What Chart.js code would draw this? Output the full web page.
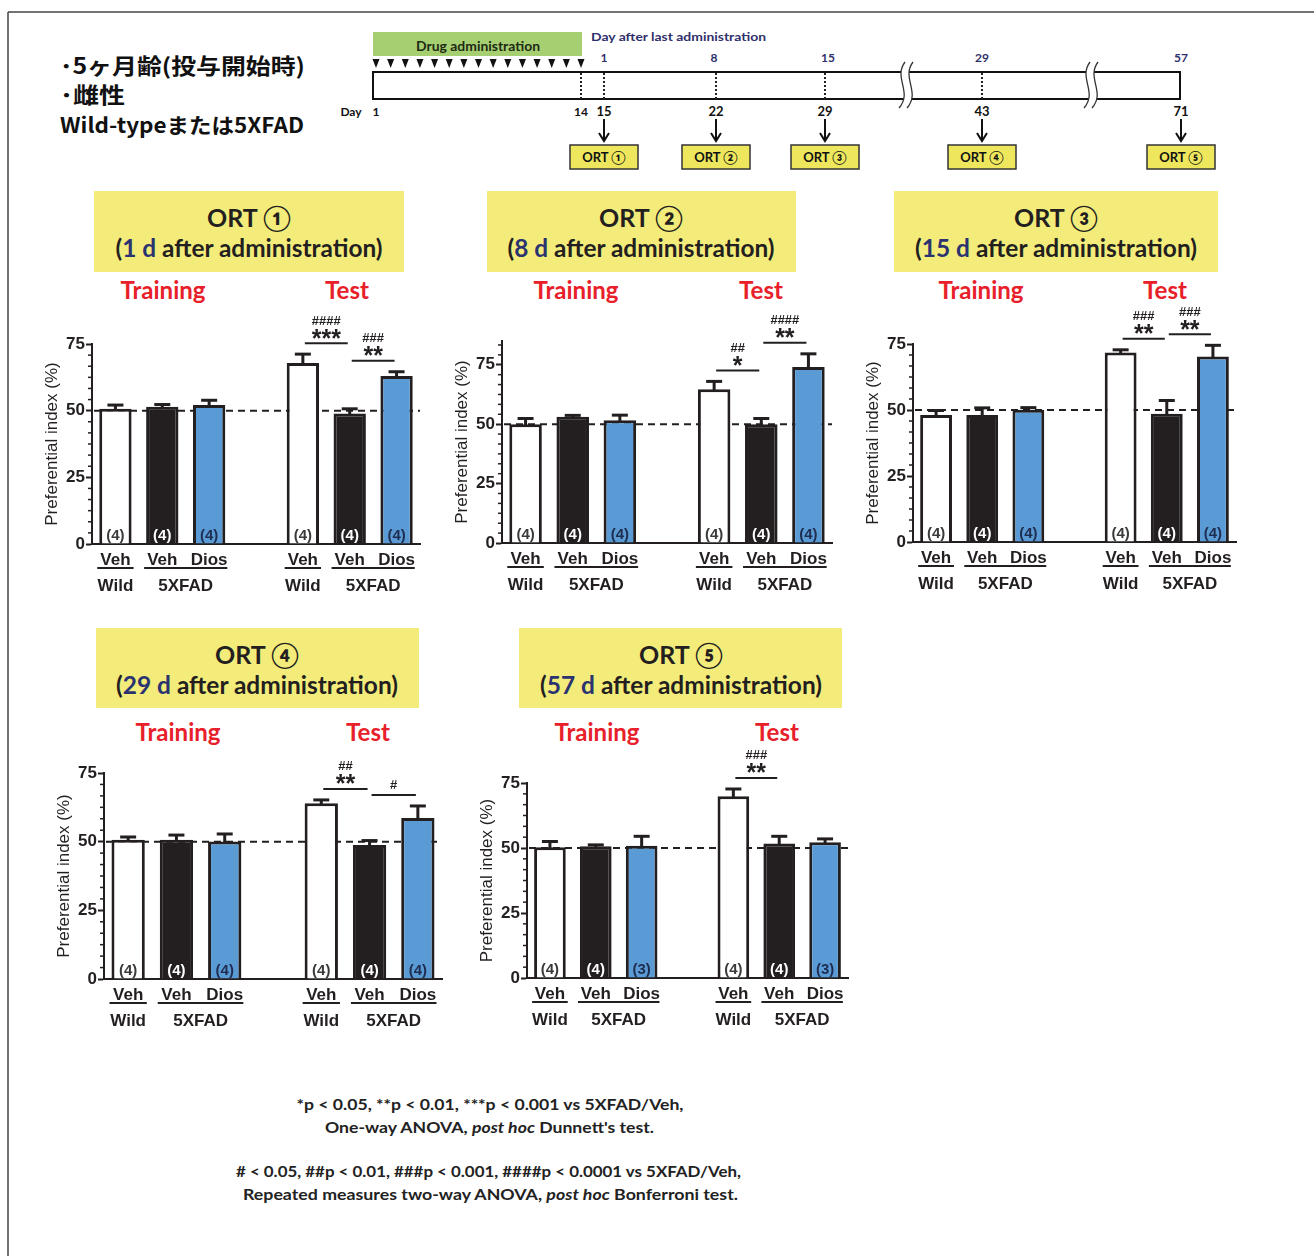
<!DOCTYPE html>
<html><head><meta charset="utf-8">
<script src="https://cdn.jsdelivr.net/npm/chart.js@4.4.1/dist/chart.umd.min.js"></script>
<style>
html,body{margin:0;padding:0;background:#fff;}
#page{position:relative;width:1314px;height:1256px;overflow:hidden;background:#fff;}
#deco{position:absolute;left:0;top:0;}
canvas{position:absolute;}
</style></head>
<body><div id="page"><svg id="deco" width="1314" height="1256" xmlns="http://www.w3.org/2000/svg"></svg></div>
<script>
// ---------------- DATA ----------------
const treatment = ['Veh','Veh','Dios','Veh','Veh','Dios'];
const genotype  = ['Wild','5XFAD','5XFAD','Wild','5XFAD','5XFAD'];
const session   = ['Training','Training','Training','Test','Test','Test'];
const yTickValues = [0,25,50,75];
const chanceLevel = 50;

const ort1Mean = [50.7, 51.5, 52.1, 67.9, 48.9, 63.0];
const ort1Sem  = [1.4, 0.8, 1.8, 3.3, 1.8, 1.6];
const ort1N    = [4,4,4,4,4,4];
const ort2Mean = [50.0, 53.1, 51.7, 64.7, 50.0, 74.1];
const ort2Sem  = [2.4, 0.6, 2.1, 3.3, 2.4, 5.5];
const ort2N    = [4,4,4,4,4,4];
const ort3Mean = [48.1, 48.1, 50.1, 71.8, 48.6, 70.3];
const ort3Sem  = [1.7, 2.7, 0.8, 1.0, 5.0, 4.2];
const ort3N    = [4,4,4,4,4,4];
const ort4Mean = [50.7, 50.7, 50.1, 64.0, 48.8, 58.6];
const ort4Sem  = [1.0, 1.7, 2.7, 1.2, 1.6, 4.4];
const ort4N    = [4,4,4,4,4,4];
const ort5Mean = [50.3, 50.7, 50.9, 69.9, 51.7, 52.2];
const ort5Sem  = [2.2, 0.5, 3.6, 2.8, 2.8, 1.3];
const ort5N    = [4,4,3,4,4,3];

const ort1Sig = [{a:3,b:4,stars:'***',hash:'####'},{a:4,b:5,stars:'**',hash:'###'}];
const ort2Sig = [{a:3,b:4,stars:'*',hash:'##'},{a:4,b:5,stars:'**',hash:'####'}];
const ort3Sig = [{a:3,b:4,stars:'**',hash:'###'},{a:4,b:5,stars:'**',hash:'###'}];
const ort4Sig = [{a:3,b:4,stars:'**',hash:'##'},{a:4,b:5,stars:'',hash:'#'}];
const ort5Sig = [{a:3,b:4,stars:'**',hash:'###'}];

const panelNames = ['ORT ①','ORT ②','ORT ③','ORT ④','ORT ⑤'];
const panelDays  = ['1','8','15','29','57'];
const yMax = [75, 85, 75, 75, 75];
const yTitle = 'Preferential index (%)';

// timeline text
const dayAfterLabels = ['1','8','15','29','57'];
const dayLabels = ['15','22','29','43','71'];

// ---------------- LAYOUT / STYLE ----------------
const INK = '#231f20';
const FILLS = ['#ffffff', '#231f20', '#5b9bd5'];
const NCOL  = ['#3a3a3a', '#ffffff', '#1e2d50'];
const panels = [
  {box:[94,191,310,81], cx:249, w2:267, train:163, test:347, ty:289, area:{l:92,r:420,t:344,b:544}},
  {box:[487,191,309,81], cx:641, w2:267, train:576, test:761, ty:289, area:{l:502,r:832,t:340.7,b:542.7}},
  {box:[894,191,324,81], cx:1056, w2:282, train:981, test:1165, ty:289, area:{l:913,r:1236,t:343.7,b:541.3}},
  {box:[96,628,323,80], cx:257, w2:282, train:178, test:368, ty:731, area:{l:104,r:442,t:773.3,b:979.3}},
  {box:[519,628,323,80], cx:681, w2:282, train:597, test:777, ty:731, area:{l:527,r:848,t:783.3,b:978.7}}
];
const FONT = '"Liberation Sans", Arial, sans-serif';

// ---------------- SVG DECORATION ----------------
const svg = document.getElementById('deco');
const NS = 'http://www.w3.org/2000/svg';
function S(tag, attrs, parent){ const e=document.createElementNS(NS,tag); for(const k in attrs) e.setAttribute(k, attrs[k]); (parent||svg).appendChild(e); return e; }
function T(x,y,str,attrs){ const e=S('text',Object.assign({x:x,y:y,'dominant-baseline':'central'},attrs)); if(str!==null) e.textContent=str; return e; }
function tspan(parent, str, attrs){ const e=S('tspan', attrs||{}, parent); e.textContent=str; return e; }
const LATO = 'Lato, "Noto Sans", sans-serif';

// frame
S('line',{x1:8,y1:12,x2:1314,y2:12,stroke:'#444','stroke-width':1.5});
S('line',{x1:8,y1:12,x2:8,y2:1256,stroke:'#444','stroke-width':1.5});

// Japanese header
const JP = '"Noto Sans CJK JP", sans-serif';
T(60,64,'･5ヶ月齢(投与開始時)',{'font-family':JP,'font-weight':'bold','font-size':22,fill:'#111',textLength:245,lengthAdjust:'spacingAndGlyphs'});
T(60,93,'･雌性',{'font-family':JP,'font-weight':'bold','font-size':22,fill:'#111',textLength:65,lengthAdjust:'spacingAndGlyphs'});
T(60,124,'Wild-typeまたは5XFAD',{'font-family':JP,'font-weight':'bold','font-size':21,fill:'#111',textLength:244,lengthAdjust:'spacingAndGlyphs'});

// timeline
S('rect',{x:373,y:32,width:209,height:24,fill:'#a6cf72'});
T(478,45,'Drug administration',{'font-family':LATO,'font-weight':'bold','font-size':14,fill:'#1d2a12','text-anchor':'middle',textLength:124,lengthAdjust:'spacingAndGlyphs'});
for(let i=0;i<15;i++){ const x=376+i*(581-376)/14; S('polygon',{points:`${x-3.5},59 ${x+3.5},59 ${x},68`,fill:'#111'}); }
S('rect',{x:373,y:72,width:807,height:27,fill:'#fff',stroke:'#111','stroke-width':2});
[581,604,716,825,982].forEach(x=>S('line',{x1:x,y1:73,x2:x,y2:99,stroke:'#222','stroke-width':2,'stroke-dasharray':'2 2'}));
[903,1088].forEach(bx=>{
  S('path',{d:`M${bx+2},62 C${bx-10},78 ${bx+10},92 ${bx-4},108 L${bx+4},108 C${bx+18},92 ${bx-2},78 ${bx+10},62 Z`,fill:'#fff'});
  S('path',{d:`M${bx+2},62 C${bx-10},78 ${bx+10},92 ${bx-4},108`,fill:'none',stroke:'#333','stroke-width':1.3});
  S('path',{d:`M${bx+10},62 C${bx-2},78 ${bx+18},92 ${bx+4},108`,fill:'none',stroke:'#333','stroke-width':1.3});
});
T(591,36,'Day after last administration',{'font-family':LATO,'font-weight':'bold','font-size':12,fill:'#2f2f6b',textLength:175,lengthAdjust:'spacingAndGlyphs'});
const ortX = [604,716,825,982,1181];
const topX = [604,714,828,982,1181];
dayAfterLabels.forEach((s,i)=>T(topX[i],57,s,{'font-family':LATO,'font-weight':'bold','font-size':12,fill:'#2f2f6b','text-anchor':'middle'}));
T(351,111,'Day',{'font-family':LATO,'font-weight':'bold','font-size':12,fill:'#111','text-anchor':'middle'});
T(376,111,'1',{'font-family':LATO,'font-weight':'bold','font-size':12,fill:'#111','text-anchor':'middle'});
T(581,111,'14',{'font-family':LATO,'font-weight':'bold','font-size':12,fill:'#111','text-anchor':'middle'});
dayLabels.forEach((s,i)=>T(ortX[i],111,s,{'font-family':LATO,'font-weight':'bold','font-size':13,fill:'#111','text-anchor':'middle'}));
ortX.forEach((x,i)=>{
  S('line',{x1:x,y1:119,x2:x,y2:140,stroke:'#111','stroke-width':2});
  S('polyline',{points:`${x-5},133 ${x},141 ${x+5},133`,fill:'none',stroke:'#111','stroke-width':2});
  S('rect',{x:x-34,y:145,width:68,height:24,fill:'#eee75d',stroke:'#333','stroke-width':1.5});
  T(x,157,panelNames[i],{'font-family':LATO,'font-weight':'bold','font-size':13,fill:'#111','text-anchor':'middle'});
});

// panel titles
panels.forEach((p,i)=>{
  const [bx,by,bw,bh]=p.box;
  S('rect',{x:bx,y:by,width:bw,height:bh,fill:'#f3ec7a'});
  T(p.cx,by+26,panelNames[i],{'font-family':LATO,'font-weight':'bold','font-size':25,fill:INK,'text-anchor':'middle'});
  const t2=T(p.cx,by+56,null,{'font-family':LATO,'font-weight':'bold','font-size':25,fill:INK,'text-anchor':'middle',textLength:p.w2,lengthAdjust:'spacingAndGlyphs'});
  tspan(t2,'(');
  tspan(t2,panelDays[i]+' d',{fill:'#2b3270'});
  tspan(t2,' after administration)');
  T(p.train,p.ty,'Training',{'font-family':LATO,'font-weight':'bold','font-size':25,fill:'#e8202a','text-anchor':'middle',textLength:85,lengthAdjust:'spacingAndGlyphs'});
  T(p.test,p.ty,'Test',{'font-family':LATO,'font-weight':'bold','font-size':25,fill:'#e8202a','text-anchor':'middle',textLength:44,lengthAdjust:'spacingAndGlyphs'});
});

// footnotes
const FN = {'font-family':LATO,'font-weight':'bold','font-size':16,fill:'#222','text-anchor':'middle',lengthAdjust:'spacingAndGlyphs'};
T(490,1103,'*p < 0.05, **p < 0.01, ***p < 0.001 vs 5XFAD/Veh,',Object.assign({},FN,{textLength:387}));
let f2=T(489.5,1126,null,Object.assign({},FN,{textLength:329}));
tspan(f2,'One-way ANOVA, '); tspan(f2,'post hoc',{'font-style':'italic'}); tspan(f2,' Dunnett\'s test.');
T(488.5,1170,'# < 0.05, ##p < 0.01, ###p < 0.001, ####p  < 0.0001 vs 5XFAD/Veh,',Object.assign({},FN,{textLength:505}));
let f4=T(490.5,1193,null,Object.assign({},FN,{textLength:495}));
tspan(f4,'Repeated measures two-way ANOVA, '); tspan(f4,'post hoc',{'font-style':'italic'}); tspan(f4,' Bonferroni test.');

// ---------------- CHARTS ----------------
Chart.defaults.font.family = FONT;
const page = document.getElementById('page');
const withGap = arr => [arr[0],arr[1],arr[2],null,arr[3],arr[4],arr[5]];
const catIdx = i => (i<3 ? i : i+1);
const fillArr = [0,1,2,0,1,2].map(k=>FILLS[k]);

function buildChart(pi, mean, sem, n, sig){
  const p = panels[pi];
  const padL=75, padT=62, padR=15, padB=62;
  const W = Math.round(p.area.r - p.area.l + padL + padR);
  const H = Math.round(p.area.b - p.area.t + padT + padB);
  const c = document.createElement('canvas');
  c.width=W; c.height=H;
  c.style.left=(p.area.l-padL)+'px'; c.style.top=(p.area.t-padT)+'px';
  c.style.width=W+'px'; c.style.height=H+'px';
  page.appendChild(c);
  const ymax = yMax[pi];

  const plugin = {
    id:'panel'+pi,
    beforeDatasetsDraw(chart){
      const {ctx, chartArea:a, scales:{y}} = chart;
      const py = y.getPixelForValue(chanceLevel);
      ctx.save(); ctx.strokeStyle=INK; ctx.lineWidth=2; ctx.setLineDash([7,5]);
      ctx.beginPath(); ctx.moveTo(a.left+2,py); ctx.lineTo(a.right,py); ctx.stroke(); ctx.restore();
    },
    afterDatasetsDraw(chart){
      const {ctx, chartArea:a, scales:{y}} = chart;
      const meta = chart.getDatasetMeta(0);
      ctx.save();
      // error bars (upper, SEM)
      ctx.strokeStyle=INK; ctx.lineWidth=3; ctx.lineCap='butt';
      for(let i=0;i<6;i++){
        const bar = meta.data[catIdx(i)];
        const yt = y.getPixelForValue(mean[i]), ye = y.getPixelForValue(mean[i]+sem[i]);
        ctx.beginPath(); ctx.moveTo(bar.x,yt+1); ctx.lineTo(bar.x,ye); ctx.stroke();
        ctx.beginPath(); ctx.moveTo(bar.x-8,ye); ctx.lineTo(bar.x+8,ye); ctx.stroke();
      }
      // n labels
      ctx.font='bold 15px '+FONT; ctx.textAlign='center'; ctx.textBaseline='middle';
      for(let i=0;i<6;i++){
        const bar = meta.data[catIdx(i)];
        ctx.fillStyle = NCOL[i%3];
        ctx.fillText('('+n[i]+')', bar.x, a.bottom-8);
      }
      // minor ticks
      ctx.strokeStyle=INK; ctx.lineWidth=1.5;
      for(let k=1;k*25/6<=ymax+0.001;k++){
        if(k%6===0) continue;
        const py=y.getPixelForValue(k*25/6);
        ctx.beginPath(); ctx.moveTo(a.left-4,py); ctx.lineTo(a.left,py); ctx.stroke();
      }
      // significance brackets
      sig.forEach(s=>{
        const ba=meta.data[catIdx(s.a)], bb=meta.data[catIdx(s.b)];
        const top=Math.min(y.getPixelForValue(mean[s.a]+sem[s.a]), y.getPixelForValue(mean[s.b]+sem[s.b]));
        const ly=top-11;
        const x1=ba.x+2, x2=bb.x-2, mx=(x1+x2)/2;
        ctx.strokeStyle=INK; ctx.lineWidth=2;
        ctx.beginPath(); ctx.moveTo(x1,ly); ctx.lineTo(x2,ly); ctx.stroke();
        ctx.fillStyle=INK; ctx.textAlign='center'; ctx.textBaseline='alphabetic';
        const drawC=(txt,font,cy)=>{ ctx.font=font; const m=ctx.measureText(txt); ctx.fillText(txt,mx,cy+(m.actualBoundingBoxAscent-m.actualBoundingBoxDescent)/2); };
        if(s.stars){
          drawC(s.stars,'bold 25px '+FONT,ly-9.5);
          drawC(s.hash,'bold 13px '+FONT,ly-23);
        } else {
          drawC(s.hash,'bold 13px '+FONT,ly-10.5);
        }
      });
      // y title
      ctx.save();
      ctx.translate(a.left-40,(a.top+a.bottom)/2); ctx.rotate(-Math.PI/2);
      ctx.font='17px '+FONT; ctx.fillStyle=INK; ctx.textAlign='center'; ctx.textBaseline='middle';
      ctx.fillText(yTitle,0,0);
      ctx.restore();
      // group labels with underline
      ctx.font='bold 17px '+FONT; ctx.textAlign='center'; ctx.textBaseline='middle';
      let i=0;
      while(i<6){
        let j=i;
        while(j+1<6 && genotype[j+1]===genotype[i] && session[j+1]===session[i]) j++;
        const b1=meta.data[catIdx(i)], b2=meta.data[catIdx(j)];
        const xl=b1.x-b1.width/2-2, xr=b2.x+b2.width/2+2;
        ctx.strokeStyle=INK; ctx.lineWidth=2;
        ctx.beginPath(); ctx.moveTo(xl,a.bottom+24); ctx.lineTo(xr,a.bottom+24); ctx.stroke();
        ctx.fillStyle=INK; ctx.fillText(genotype[i],(b1.x+b2.x)/2,a.bottom+42);
        i=j+1;
      }
      ctx.restore();
    }
  };

  new Chart(c, {
    type:'bar',
    data:{
      labels: withGap(treatment).map(v=>v===null?'':v),
      datasets:[{data: withGap(mean), backgroundColor: withGap(fillArr), borderColor:INK, borderWidth:3,
        borderSkipped:'start', barPercentage:0.69, categoryPercentage:1}]
    },
    options:{
      responsive:false, animation:false, devicePixelRatio:1,
      layout:{padding:{top:padT,right:padR,left:0,bottom:0}},
      plugins:{legend:{display:false}, tooltip:{enabled:false}},
      scales:{
        x:{
          grid:{display:true, drawOnChartArea:false, drawTicks:false},
          border:{display:true, color:INK, width:2},
          ticks:{color:INK, font:{size:17, weight:'bold'}, padding:6, maxRotation:0, autoSkip:false},
          afterFit(s){ s.height=padB; }
        },
        y:{
          min:0, max:ymax,
          ticks:{stepSize:25, color:INK, font:{size:17, weight:'bold'}, padding:1},
          grid:{display:true, drawOnChartArea:false, drawTicks:true, tickLength:6, tickWidth:2, tickColor:INK},
          border:{display:true, color:INK, width:2},
          afterBuildTicks(s){ s.ticks = s.ticks.filter(t=>yTickValues.includes(t.value)); },
          afterFit(s){ s.width=padL; }
        }
      }
    },
    plugins:[plugin]
  });
}

buildChart(0, ort1Mean, ort1Sem, ort1N, ort1Sig);
buildChart(1, ort2Mean, ort2Sem, ort2N, ort2Sig);
buildChart(2, ort3Mean, ort3Sem, ort3N, ort3Sig);
buildChart(3, ort4Mean, ort4Sem, ort4N, ort4Sig);
buildChart(4, ort5Mean, ort5Sem, ort5N, ort5Sig);
</script>
</body></html>
